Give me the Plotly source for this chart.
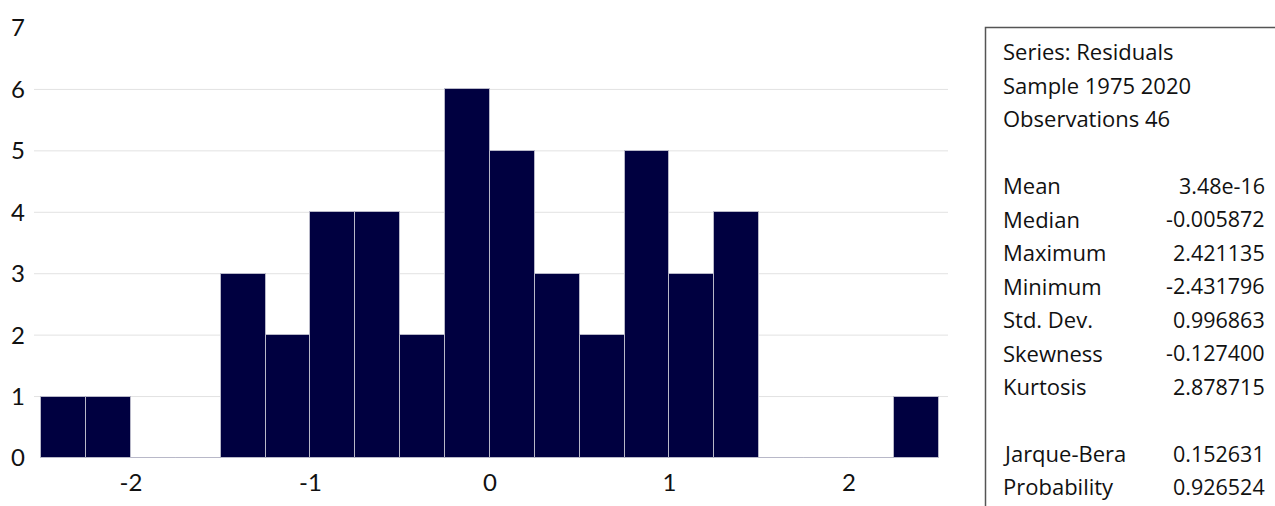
import numpy as np
import plotly.graph_objects as go

# Histogram of regression residuals (bin width 0.25)
bin_edges = [-2.5, -2.25, -2.0, -1.75, -1.5, -1.25, -1.0, -0.75, -0.5, -0.25,
             0.0, 0.25, 0.5, 0.75, 1.0, 1.25, 1.5, 1.75, 2.0, 2.25, 2.5]
counts = [1, 1, 0, 0, 3, 2, 4, 4, 2, 6, 5, 3, 2, 5, 3, 4, 0, 0, 0, 1]

x_ticks = [-2, -1, 0, 1, 2]
y_ticks = [0, 1, 2, 3, 4, 5, 6, 7]
grid_levels = [1, 2, 3, 4, 5, 6]

# Descriptive statistics panel
header_lines = ["Series: Residuals", "Sample 1975 2020", "Observations 46"]
stat_names = ["Mean", "Median", "Maximum", "Minimum", "Std. Dev.", "Skewness", "Kurtosis"]
stat_values = ["3.48e-16", "-0.005872", "2.421135", "-2.431796", "0.996863", "-0.127400", "2.878715"]
test_names = ["Jarque-Bera", "Probability"]
test_values = ["0.152631", "0.926524"]

edges = np.array(bin_edges)
centers = (edges[:-1] + edges[1:]) / 2
widths = np.diff(edges)

W, H = 1275, 506
ML, MT, MB = 34, 28, 47.5
plot_w = 914
plot_h = H - MT - MB
fig_w = W - ML  # width available to paper coordinates (right margin 0)

FONT = "Lato"
STAT_FONT = "Open Sans"

fig = go.Figure()
fig.add_trace(go.Bar(
    x=centers, y=counts, width=widths,
    marker=dict(color="#000040", line=dict(color="#b8b8c8", width=1)),
    hoverinfo="x+y",
))

# horizontal gridlines
for g in grid_levels:
    fig.add_shape(type="line", xref="x domain", yref="y", x0=0, x1=1, y0=g, y1=g,
                  line=dict(color="#e2e2e2", width=1), layer="below")


def px_to_paper_x(px):
    return (px - ML) / fig_w


def px_to_paper_y(py):
    return (H - MB - py) / plot_h


# statistics frame
fig.add_shape(type="rect", xref="paper", yref="paper",
              x0=px_to_paper_x(985.5), x1=px_to_paper_x(1290),
              y0=px_to_paper_y(530), y1=px_to_paper_y(27.5),
              line=dict(color="#555555", width=1.5), fillcolor="rgba(0,0,0,0)")

rows = []
for t in header_lines:
    rows.append((t, None))
rows.append(None)
for n, v in zip(stat_names, stat_values):
    rows.append((n, v))
rows.append(None)
for n, v in zip(test_names, test_values):
    rows.append((n, v))

x_left = px_to_paper_x(1001)
x_right = px_to_paper_x(1267)
for i, row in enumerate(rows):
    if row is None:
        continue
    yc = px_to_paper_y(51.5 + 33.5 * i)
    label, value = row
    fig.add_annotation(text=label, xref="paper", yref="paper", x=x_left, y=yc,
                       xanchor="left", yanchor="middle", showarrow=False,
                       font=dict(family=STAT_FONT, size=22, color="#111111"))
    if value is not None:
        fig.add_annotation(text=value, xref="paper", yref="paper", x=x_right, y=yc,
                           xanchor="right", yanchor="middle", showarrow=False,
                           font=dict(family=STAT_FONT, size=21.5, color="#111111"))

fig.update_layout(
    width=W, height=H,
    margin=dict(l=ML, r=0, t=MT, b=MB, pad=0),
    paper_bgcolor="white", plot_bgcolor="white",
    bargap=0, showlegend=False,
    font=dict(family=FONT, size=24, color="#111111"),
    xaxis=dict(domain=[0, plot_w / fig_w], range=[-2.54, 2.552],
               tickvals=x_ticks, ticktext=[str(v) for v in x_ticks],
               showgrid=False, zeroline=False, showline=False, ticks="",
               ticklabelstandoff=8, fixedrange=True),
    yaxis=dict(range=[0, 7], tickvals=y_ticks, showgrid=False, zeroline=False,
               showline=False, ticks="", ticklabelstandoff=8, fixedrange=True),
)

fig.write_html("out.html")
